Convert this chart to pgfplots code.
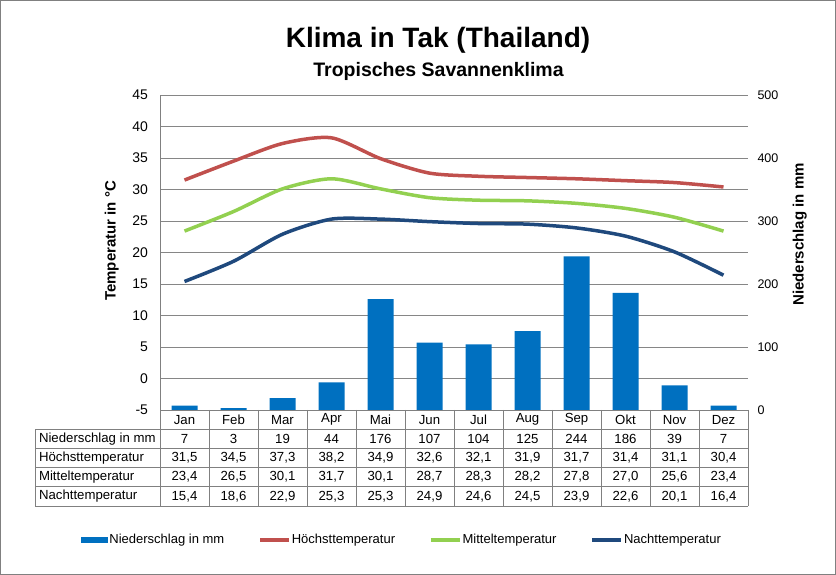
\documentclass[border=0pt]{standalone}
\usepackage{fontspec}
\setmainfont{Liberation Sans}
\usepackage{pgfplots}
\pgfplotsset{compat=1.18}

\definecolor{barblue}{RGB}{0,112,192}
\definecolor{hired}{RGB}{192,80,77}
\definecolor{midgreen}{RGB}{146,208,80}
\definecolor{nightblue}{RGB}{31,73,125}
\definecolor{gridgray}{RGB}{134,134,134}
\definecolor{tabgray}{RGB}{128,128,128}

\begin{document}
\begin{tikzpicture}
\useasboundingbox (0pt,0pt) rectangle (836pt,575pt);
\draw[tabgray] (0.5pt,0.5pt) rectangle (835.5pt,574.5pt);

% titles
\node[font=\fontsize{28}{32}\bfseries\selectfont] at (438pt,535pt) {Klima in Tak (Thailand)};
\node[font=\fontsize{19.5}{22}\bfseries\selectfont] at (438.5pt,504pt) {Tropisches Savannenklima};

% temperature axis
\begin{axis}[
  at={(160pt,165pt)}, anchor=south west,
  scale only axis, width=588pt, height=315pt,
  xmin=-0.5, xmax=11.5, ymin=-5, ymax=45,
  ytick={-5,0,...,45},
  xtick={0,...,11},
  xticklabels={Jan,Feb,Mar,Apr,Mai,Jun,Jul,Aug,Sep,Okt,Nov,Dez},
  axis x line*=bottom, axis y line*=left,
  axis line style={tabgray, -},
  major tick length=0pt,
  ymajorgrids, grid style={gridgray, line width=0.6pt},
  tick label style={font=\fontsize{14}{16}\selectfont},
  /pgf/number format/assume math mode=true,
  yticklabel style={anchor=east, xshift=-8.5pt},
  xticklabel style={anchor=center, yshift=-9.6pt, font=\fontsize{13.2}{16}\selectfont},
  ylabel={Temperatur in °C},
  ylabel style={at={(axis description cs:-0.082,0.537)}, anchor=center,
    font=\fontsize{15}{17}\bfseries\selectfont},
  clip=false,
]
\addplot[hired, line width=3.5pt, smooth, tension=0.45] coordinates {
  (0,31.5) (1,34.5) (2,37.3) (3,38.2) (4,34.9) (5,32.6)
  (6,32.1) (7,31.9) (8,31.7) (9,31.4) (10,31.1) (11,30.4)};
\addplot[midgreen, line width=3.5pt, smooth, tension=0.45] coordinates {
  (0,23.4) (1,26.5) (2,30.1) (3,31.7) (4,30.1) (5,28.7)
  (6,28.3) (7,28.2) (8,27.8) (9,27.0) (10,25.6) (11,23.4)};
\addplot[nightblue, line width=3.5pt, smooth, tension=0.45] coordinates {
  (0,15.4) (1,18.6) (2,22.9) (3,25.3) (4,25.3) (5,24.9)
  (6,24.6) (7,24.5) (8,23.9) (9,22.6) (10,20.1) (11,16.4)};
\end{axis}

% precipitation axis
\begin{axis}[
  at={(160pt,165pt)}, anchor=south west,
  scale only axis, width=588pt, height=315pt,
  xmin=-0.5, xmax=11.5, ymin=0, ymax=500,
  ytick={0,100,...,500},
  hide x axis,
  axis y line*=right,
  axis line style={draw=none},
  major tick length=0pt,
  tick label style={font=\fontsize{12.5}{14}\selectfont},
  /pgf/number format/assume math mode=true,
  yticklabel style={anchor=west, xshift=6pt},
  ylabel={Niederschlag in mm},
  ylabel style={at={(axis description cs:1.088,0.557)}, anchor=center,
    font=\fontsize{15}{17}\bfseries\selectfont},
  legend columns=4,
  legend style={at={(axis description cs:0.411,-0.4127)}, anchor=center, draw=none,
    font=\fontsize{13}{15}\selectfont, nodes={inner sep=1pt},
    /tikz/every even column/.append style={column sep=33pt}},
]
\addplot[ybar, bar width=26pt, fill=barblue, draw=none, bar shift=0pt,
  legend image code/.code={\fill[barblue] (0pt,-2.8pt) rectangle (27pt,2.8pt);}]
  coordinates {
  (0,7) (1,3) (2,19) (3,44) (4,176) (5,107)
  (6,104) (7,125) (8,244) (9,186) (10,39) (11,7)};
\addlegendentry{Niederschlag in mm}
\addlegendimage{legend image code/.code={\draw[hired, line width=3.5pt] (0pt,0pt) -- (29pt,0pt);}}
\addlegendentry{Höchsttemperatur}
\addlegendimage{legend image code/.code={\draw[midgreen, line width=3.5pt] (0pt,0pt) -- (29pt,0pt);}}
\addlegendentry{Mitteltemperatur}
\addlegendimage{legend image code/.code={\draw[nightblue, line width=3.5pt] (0pt,0pt) -- (29pt,0pt);}}
\addlegendentry{Nachttemperatur}
\end{axis}

% data table below the plot
\begin{scope}[tabgray, line width=0.8pt]
  \foreach \i in {0,...,12} \draw (160pt+49*\i pt,165pt) -- (160pt+49*\i pt,69pt);
  \foreach \y in {145.8,126.6,107.4,88.2,69} \draw (35pt,\y pt) -- (748pt,\y pt);
  \draw (35pt,145.8pt) -- (35pt,69pt);
\end{scope}
\begin{scope}[font=\fontsize{13.2}{16}\selectfont]
  \node[anchor=west] at (35.5pt,136.2pt) {Niederschlag in mm};
  \node[anchor=west] at (35.5pt,117pt) {Höchsttemperatur};
  \node[anchor=west] at (35.5pt,97.8pt) {Mitteltemperatur};
  \node[anchor=west] at (35.5pt,78.6pt) {Nachttemperatur};
  \foreach \v [count=\i from 0] in {7,3,19,44,176,107,104,125,244,186,39,7}
    \node at (184.5pt+49*\i pt,136.2pt) {\v};
  \foreach \v [count=\i from 0] in {31{,}5,34{,}5,37{,}3,38{,}2,34{,}9,32{,}6,32{,}1,31{,}9,31{,}7,31{,}4,31{,}1,30{,}4}
    \node at (184.5pt+49*\i pt,117pt) {\v};
  \foreach \v [count=\i from 0] in {23{,}4,26{,}5,30{,}1,31{,}7,30{,}1,28{,}7,28{,}3,28{,}2,27{,}8,27{,}0,25{,}6,23{,}4}
    \node at (184.5pt+49*\i pt,97.8pt) {\v};
  \foreach \v [count=\i from 0] in {15{,}4,18{,}6,22{,}9,25{,}3,25{,}3,24{,}9,24{,}6,24{,}5,23{,}9,22{,}6,20{,}1,16{,}4}
    \node at (184.5pt+49*\i pt,78.6pt) {\v};
\end{scope}
\end{tikzpicture}
\end{document}
